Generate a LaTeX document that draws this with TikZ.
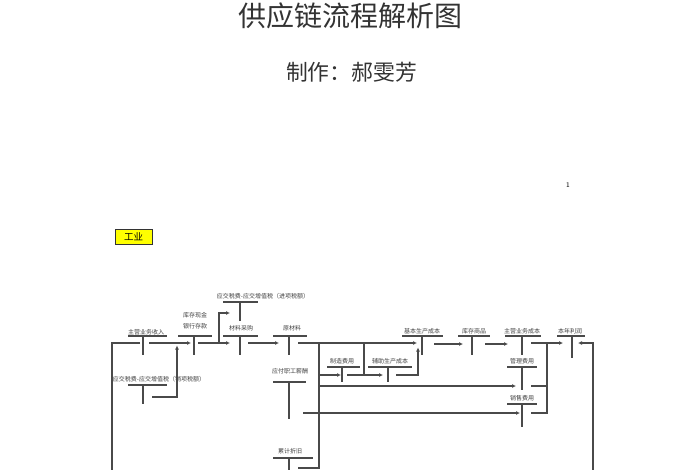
\documentclass[tikz,border=0pt]{standalone}
\usepackage{fontspec}
\newfontfamily\cjk{Noto Sans CJK SC}
\usetikzlibrary{arrows.meta}
\definecolor{lnc}{HTML}{4A4A4A}
\definecolor{boxy}{HTML}{FFFF00}
\tikzset{
  lbl/.style={inner sep=0pt, align=center, font=\cjk\fontsize{6}{11.5}\selectfont, text=black!75},
  tline/.style={draw=lnc, line width=1.3pt},
  conn/.style={draw=lnc, line width=1.1pt},
  arr/.style={conn, -{Latex[length=4pt,width=4pt]}},
}
\newcommand\tacc[8]{%
  \node[lbl] (#1) at #3 {#2};
  \draw[tline] (#4,#6) -- (#5,#6);
  \draw[tline] (#7,#6) -- (#7,#8);
  \coordinate (#1-j) at (#7,#6);
}
\begin{document}
\begin{tikzpicture}[x=1pt,y=-1pt]
\useasboundingbox[fill=white] (0,0) rectangle (700,470);
% titles
\node[inner sep=0pt, anchor=base, font=\cjk\fontsize{28}{30}\selectfont, text=black!80] (title) at (350,27) {供应链流程解析图};
\node[inner sep=0pt, anchor=base, font=\cjk\fontsize{21.8}{22}\selectfont, text=black!80] (sub) at (351.5,81) {制作：郝雯芳};
\node[inner sep=0pt, font=\sffamily\fontsize{7}{8}\selectfont] (pg) at (568,185) {1};
\node[draw=black!80, line width=1pt, fill=boxy, minimum width=37pt, minimum height=15pt, inner sep=0pt, font=\cjk\fontsize{9.5}{10}\selectfont] (gy) at (133.5,237) {工业};
% T accounts
\tacc{zysr}{主营业务收入}{(146,332)}{128}{167}{336}{143}{355}
\tacc{yhck}{库存现金\\银行存款}{(195,320.5)}{178}{212}{336}{194}{355}
\tacc{jx}{应交税费-应交增值税（进项税额）}{(263,296.5)}{223}{258}{302}{240}{321}
\tacc{clcg}{材料采购}{(241,328)}{223}{258}{336}{240}{355}
\tacc{ycl}{原材料}{(292,328)}{273}{307}{336}{289}{355}
\tacc{jbsc}{基本生产成本}{(422,331)}{402}{443}{336}{422}{355}
\tacc{kcsp}{库存商品}{(474,331)}{458}{490}{336}{472}{355}
\tacc{zycb}{主营业务成本}{(522,331)}{505}{541}{336}{522}{355}
\tacc{bnlr}{本年利润}{(570,331)}{557}{585}{336}{572}{358}
\tacc{xx}{应交税费-应交增值税（销项税额）}{(159,379.5)}{128}{167}{385}{143}{404}
\tacc{yfzg}{应付职工薪酬}{(290,371)}{273}{306}{382}{289}{419}
\tacc{zzfy}{制造费用}{(342,361.5)}{327}{360}{367}{342}{382}
\tacc{fzsc}{辅助生产成本}{(390,361.5)}{368}{412}{367}{388}{382}
\tacc{glfy}{管理费用}{(522,361.5)}{507}{537}{367}{522}{390}
\tacc{xsfy}{销售费用}{(522,398.5)}{507}{537}{404}{522}{427}
\tacc{ljzj}{累计折旧}{(290,451)}{273}{313}{458}{289}{470}
% connectors
\draw[conn] (140,343) -- (112,343) -- (112,470);
\draw[arr] (149,343) -- (191,343);
\draw[arr] (152,397) -- (177,397) -- (177,345.5);
\draw[arr] (198,343) -- (230,343);
\draw[arr] (219,343) -- (219,313) -- (230,313);
\draw[arr] (248,343) -- (279,343);
\draw[arr] (298,343) -- (417,343);
\draw[conn] (319,343) -- (319,468) -- (298,468);
\draw[arr] (319,375) -- (341,375);
\draw[conn] (364,343) -- (364,375);
\draw[arr] (347,375) -- (383,375);
\draw[arr] (396,375) -- (418,375) -- (418,347.5);
\draw[arr] (319,386) -- (516,386);
\draw[arr] (303,413) -- (520,413);
\draw[arr] (434,344) -- (463,344);
\draw[arr] (485,344) -- (508,344);
\draw[arr] (531,343) -- (563,343);
\draw[conn] (547,343) -- (547,413) -- (531,413);
\draw[conn] (531,386) -- (547,386);
\draw[arr] (593,470) -- (593,343) -- (578,343);
\end{tikzpicture}
\end{document}
